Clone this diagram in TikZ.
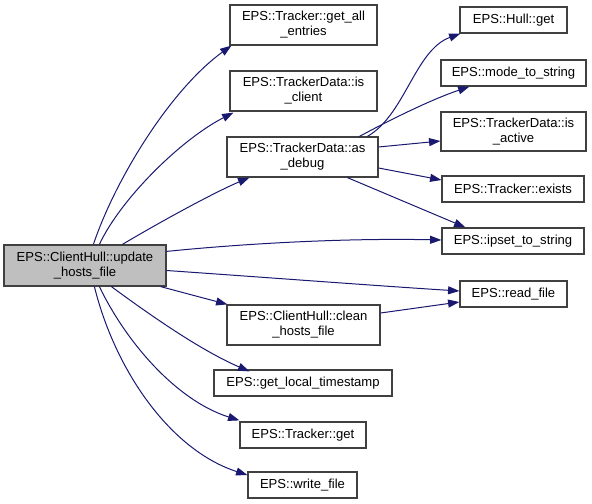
\documentclass[tikz,border=0pt]{standalone}
\usepackage{fontspec}
\setmainfont{Liberation Sans}
\usetikzlibrary{arrows.meta,calc}
\definecolor{edgec}{HTML}{191970}
\definecolor{boxc}{HTML}{404040}
\definecolor{mainfill}{HTML}{BFBFBF}
\begin{document}
\begin{tikzpicture}[x=0.75pt,y=-0.75pt,
  box/.style={draw=boxc, line width=0.9pt, fill=white, inner sep=0pt, align=center,
    font=\fontsize{9.8}{11.25}\selectfont},
  sz/.style 2 args={minimum width=#1*0.75pt, minimum height=#2*0.75pt},
  edge/.style={draw=edgec, line width=0.75pt, -{Triangle[length=8.5pt,width=6pt]}}]
\useasboundingbox (0,0) rectangle (592,503);

\node[box, sz={162}{41}, fill=mainfill] (upd) at (85,265.5) {EPS::ClientHull::update\\\_hosts\_file};
\node[box, sz={147}{40}] (gae) at (303.5,25) {EPS::Tracker::get\_all\\\_entries};
\node[box, sz={147}{40}] (iscl) at (303.5,91) {EPS::TrackerData::is\\\_client};
\node[box, sz={151}{40}] (asd) at (302.5,157) {EPS::TrackerData::as\\\_debug};
\node[box, sz={153}{40}] (clean) at (303.5,325) {EPS::ClientHull::clean\\\_hosts\_file};
\node[box, sz={178}{26}] (glt) at (303,383) {EPS::get\_local\_timestamp};
\node[box, sz={126}{26}] (tget) at (303,435) {EPS::Tracker::get};
\node[box, sz={109}{26}] (wf) at (302.5,485) {EPS::write\_file};
\node[box, sz={107}{26}] (hget) at (513.5,20) {EPS::Hull::get};
\node[box, sz={145}{26}] (mts) at (513.5,73) {EPS::mode\_to\_string};
\node[box, sz={145}{39}] (isact) at (513.5,131.5) {EPS::TrackerData::is\\\_active};
\node[box, sz={142}{26}] (ex) at (513,189) {EPS::Tracker::exists};
\node[box, sz={142}{26}] (ipset) at (513,241) {EPS::ipset\_to\_string};
\node[box, sz={107}{26}] (rf) at (513.5,294) {EPS::read\_file};

% edges from update
\draw[edge] ($(upd.north west)+(90,0)$) .. controls (115,180) and (170,90) .. ($(gae.south west)+(2,0)$);
\draw[edge] ($(upd.north west)+(96,0)$) .. controls (120,200) and (180,140) .. ($(iscl.south west)+(4,1)$);
\draw[edge] ($(upd.north west)+(119,0)$) .. controls (160,222) and (215,192) .. ($(asd.south west)+(23,0)$);
\draw[edge] ($(upd.north east)+(0,7)$) .. controls (250,243) and (350,238) .. ($(ipset.west)+(0,-1)$);
\draw[edge] ($(upd.east)+(0,5)$) .. controls (260,277) and (380,286) .. ($(rf.west)+(0,-3)$);
\draw[edge] ($(upd.south east)+(-6,0)$) -- ($(clean.north west)+(1,0)$);
\draw[edge] ($(upd.south west)+(108,0)$) .. controls (150,315) and (200,350) .. ($(glt.north west)+(36,2)$);
\draw[edge] ($(upd.south west)+(96,0)$) .. controls (125,340) and (175,400) .. ($(tget.north west)+(0,-1)$);
\draw[edge] ($(upd.south west)+(91,0)$) .. controls (115,370) and (170,450) .. ($(wf.west)+(0,-10)$);

% edges from as_debug
\draw[edge] ($(asd.north west)+(141,0)$) .. controls (405,115) and (415,50) .. ($(hget.south west)+(1,0)$);
\draw[edge] ($(asd.north west)+(133,0)$) .. controls (390,120) and (430,100) .. ($(mts.south west)+(29,0)$);
\draw[edge] ($(asd.east)+(0,-10)$) -- ($(isact.west)+(0,9.5)$);
\draw[edge] ($(asd.east)+(0,11)$) -- ($(ex.west)+(0,-9)$);
\draw[edge] ($(asd.south west)+(121,0)$) -- ($(ipset.north west)+(24,0)$);

% clean -> read_file
\draw[edge] ($(clean.east)+(0,-12)$) -- ($(rf.west)+(0,8)$);
\end{tikzpicture}
\end{document}
